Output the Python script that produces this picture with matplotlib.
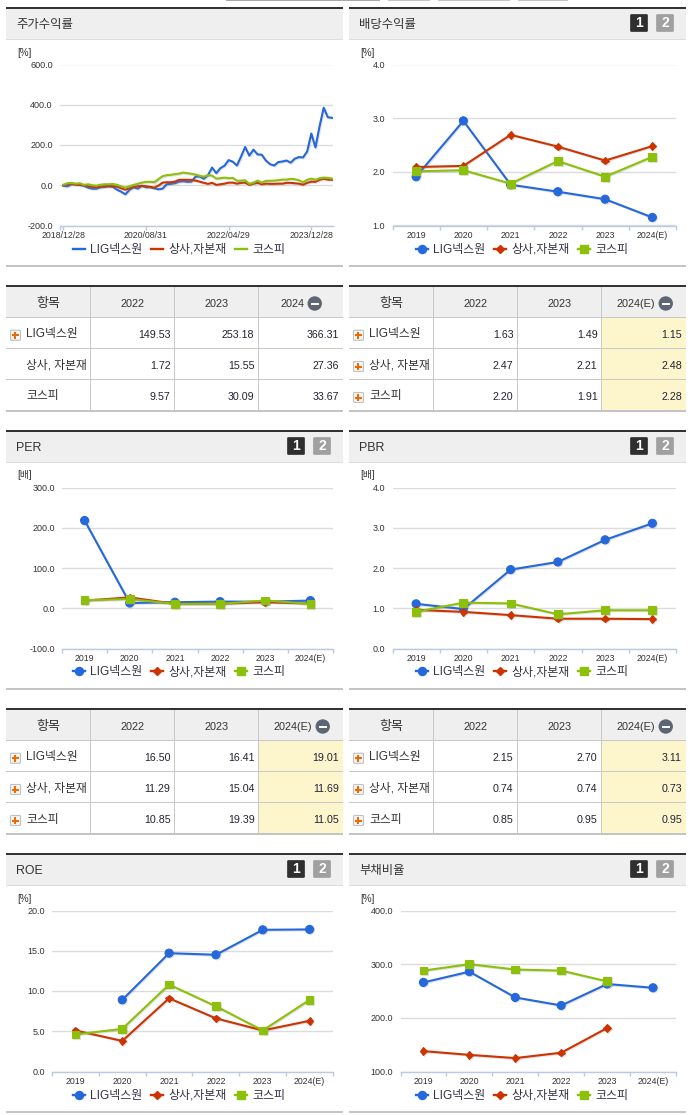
import matplotlib
matplotlib.use('Agg')
from matplotlib import pyplot as plt
from matplotlib import patheffects as pe
from matplotlib.patches import Rectangle, FancyBboxPatch, Circle
from matplotlib.lines import Line2D

plt.rcParams['font.family'] = ['Liberation Sans', 'Noto Sans CJK KR']

W, H = 691, 1115

names = ['LIG넥스원', '상사,자본재', '코스피']
colors = ['#2468dc', '#cc3300', '#8cc00a']
markers = ['o', 'D', 's']
marker_sizes = [5.8, 3.8, 5.6]
years = ['2019', '2020', '2021', '2022', '2023', '2024(E)']
nan = float('nan')

# 주가수익률 (monthly)
ret_dates = ['2018/12/28', '2020/08/31', '2022/04/29', '2023/12/28']
ret_lig = [-3, -5, 5, 5, 2, -3, -12, -17, -17, -10, -8, -6, -8, -22, -32, -45,
           -23, -10, -17, -3, -10, -10, -15, -20, -17, 5, 7, 10, 18, 20, 17, 18,
           43, 43, 32, 50, 88, 60, 85, 97, 125, 117, 98, 143, 190, 147, 177, 153,
           152, 123, 105, 98, 115, 118, 123, 112, 132, 140, 138, 168, 257, 188,
           293, 385, 338, 335]
ret_sector = [0, 5, 7, 3, 2, 0, -5, -8, -10, -7, -5, -3, -5, -7, -15, -22, -15,
              -8, -5, -3, -5, -8, -12, -2, 13, 15, 15, 18, 27, 27, 27, 27, 23, 18,
              12, 7, 12, 2, 5, 8, 13, 13, 8, 12, 13, 2, 8, 12, 5, 8, 7, 7, 8, 8,
              12, 12, 10, 8, 3, 12, 18, 17, 27, 32, 28, 27]
ret_kospi = [3, 10, 12, 8, 10, 2, 5, 0, -2, 3, 5, 5, 7, 2, -5, -12, -5, 2, 7, 13,
             17, 17, 15, 30, 45, 50, 52, 55, 58, 63, 60, 57, 53, 47, 43, 50, 48,
             33, 35, 38, 35, 37, 22, 23, 25, 7, 13, 23, 13, 22, 22, 23, 25, 28,
             28, 32, 30, 25, 15, 27, 33, 27, 35, 38, 37, 33]

div_lig = [1.91, 2.95, 1.76, 1.63, 1.49, 1.15]
div_sector = [2.09, 2.11, 2.69, 2.47, 2.21, 2.48]
div_kospi = [2.01, 2.03, 1.78, 2.20, 1.91, 2.28]

per_lig = [218, 13, 15, 16.50, 16.41, 19.01]
per_sector = [19, 27, 11, 11.29, 15.04, 11.69]
per_kospi = [20, 23, 11, 10.85, 19.39, 11.05]

pbr_lig = [1.11, 0.98, 1.96, 2.15, 2.70, 3.11]
pbr_sector = [0.96, 0.91, 0.83, 0.74, 0.74, 0.73]
pbr_kospi = [0.91, 1.14, 1.12, 0.85, 0.95, 0.95]

roe_lig = [nan, 8.9, 14.7, 14.5, 17.6, 17.65]
roe_sector = [5.1, 3.8, 9.1, 6.6, 5.1, 6.3]
roe_kospi = [4.6, 5.3, 10.8, 8.1, 5.1, 8.9]

debt_lig = [266, 286, 238, 223, 263, 256]
debt_sector = [138, 131, 125, 135, 181, nan]
debt_kospi = [288, 300, 290, 288, 268, nan]

# tables
t1_cols = ['2022', '2023', '2024']
t1_rows = [['149.53', '253.18', '366.31'], ['1.72', '15.55', '27.36'], ['9.57', '30.09', '33.67']]
t2_cols = ['2022', '2023', '2024(E)']
t2_rows = [['1.63', '1.49', '1.15'], ['2.47', '2.21', '2.48'], ['2.20', '1.91', '2.28']]
t3_rows = [['16.50', '16.41', '19.01'], ['11.29', '15.04', '11.69'], ['10.85', '19.39', '11.05']]
t4_rows = [['2.15', '2.70', '3.11'], ['0.74', '0.74', '0.73'], ['0.85', '0.95', '0.95']]

fig = plt.figure(figsize=(W / 100, H / 100), dpi=100, facecolor='white')
bg = fig.add_axes([0, 0, 1, 1])
bg.set_xlim(0, W)
bg.set_ylim(H, 0)
bg.axis('off')

LEFT = (6, 343)
RIGHT = (349, 686)
DARK = '#333333'
HEAD = '#efefef'
LINE = '#c8c8c8'
TEXT = '#333333'


def rect(x0, y0, x1, y1, color, z=1):
    bg.add_patch(Rectangle((x0, y0), x1 - x0, y1 - y0, facecolor=color, edgecolor='none', zorder=z))


def badge(x, y, label, color):
    bg.add_patch(FancyBboxPatch((x + 0.5, y + 0.5), 17, 17, boxstyle='round,pad=0,rounding_size=1',
                                facecolor=color, edgecolor=color, linewidth=0.5, zorder=3))
    bg.text(x + 9, y + 9.3, label, color='white', fontsize=10, fontweight='bold',
            ha='center', va='center', zorder=4)


def panel(col, top, bottom, title, badges=True):
    x0, x1 = col
    rect(x0, top, x1, top + 2, DARK, 2)
    rect(x0, top + 2, x1, top + 32, HEAD)
    rect(x0, top + 31.5, x1, top + 32.5, '#dddddd')
    rect(x0, bottom, x1, bottom + 2, '#c4c4c4')
    bg.text(x0 + 10, top + 18, title, color=TEXT, fontsize=8.9, va='center', ha='left')
    if badges:
        badge(x1 - 56, top + 7, '1', '#2f2f2f')
        badge(x1 - 30, top + 7, '2', '#a0a0a0')


def plus_icon(x, y):
    bg.add_patch(FancyBboxPatch((x, y), 10, 10, boxstyle='round,pad=0,rounding_size=1',
                                facecolor='#f6f6f6', edgecolor='#c0c0c0', linewidth=0.8, zorder=3))
    rect(x + 1.5, y + 4, x + 8.5, y + 6, '#f06a00', 4)
    rect(x + 4, y + 1.5, x + 6, y + 8.5, '#f06a00', 4)


def table(col, top, cols, rows, icons=(True, True, True), shade=True):
    x0, x1 = col
    xs = [x0, x0 + 84.5, x0 + 168.5, x0 + 252.5, x1]
    ys = [top + 2, top + 32, top + 63.5, top + 94.5, top + 125.5]
    rect(x0, top, x1, top + 2, DARK, 2)
    rect(x0, ys[0], x1, ys[1], HEAD)
    if shade:
        rect(xs[3], ys[1], x1, ys[4], '#fdf6cd')
    rect(x0, ys[1] - 0.5, x1, ys[1] + 0.5, LINE, 2)
    rect(x0, ys[2] - 0.5, x1, ys[2] + 0.5, LINE, 2)
    rect(x0, ys[3] - 0.5, x1, ys[3] + 0.5, LINE, 2)
    rect(x0, ys[4] - 0.5, x1, ys[4] + 1.5, '#c4c4c4', 2)
    for x in xs[1:4]:
        rect(x - 0.5, ys[0], x + 0.5, ys[4], LINE, 2)
    bg.text((xs[0] + xs[1]) / 2, top + 19, '항목', color=TEXT, fontsize=9.4, ha='center', va='center')
    for i, c in enumerate(cols):
        cx = (xs[i + 1] + xs[i + 2]) / 2
        if i == 2:
            cx -= 8
            mx = cx + 30 if len(c) > 4 else cx + 22
            bg.add_patch(Circle((mx, top + 18.5), 7.2, facecolor='#5f6673', edgecolor='none', zorder=3))
            rect(mx - 4, top + 17.5, mx + 4, top + 19.5, 'white', 4)
        bg.text(cx, top + 19, c, color=TEXT, fontsize=7.8, ha='center', va='center')
    for r, row in enumerate(rows):
        cy = (ys[r + 1] + ys[r + 2]) / 2
        if icons[r]:
            plus_icon(x0 + 4.5, cy - 2.5)
        bg.text(x0 + 20.5, cy + 1.5, names[r].replace(',', ', '), color=TEXT, fontsize=8.5, ha='left', va='center')
        for i, v in enumerate(row):
            bg.text(xs[i + 2] - 4, cy + 2, v, color='#222233', fontsize=7.7, ha='right', va='center')


def chart_axes(x0, x1, ytop, ybot, ymin, ymax, yticks, yfmt, unit, unit_x):
    ax = fig.add_axes([x0 / W, 1 - ybot / H, (x1 - x0) / W, (ybot - ytop) / H])
    ax.set_facecolor('none')
    ax.set_ylim(ymin, ymax)
    ax.set_yticks(yticks)
    ax.set_yticklabels([yfmt % t for t in yticks], fontsize=6.5, color='#333333')
    ax.grid(axis='y', color='#dcdcdc', linewidth=1.0)
    ax.set_axisbelow(True)
    for s in ['top', 'left', 'right']:
        ax.spines[s].set_visible(False)
    ax.spines['bottom'].set_color('#b8cbe0')
    ax.spines['bottom'].set_linewidth(1.0)
    ax.tick_params(axis='y', length=0, pad=5.2)
    bg.text(unit_x, ytop - 12, unit, fontsize=7, color='#333333', ha='left', va='center')
    return ax


def legend(ax, with_markers, cx, cy):
    handles = []
    for i in range(3):
        handles.append(Line2D([], [], color=colors[i], linewidth=1.7,
                              marker=markers[i] if with_markers else None,
                              markersize=marker_sizes[i], label=names[i]))
    fig.legend(handles=handles, loc='center', bbox_to_anchor=(cx / W, 1 - cy / H), ncol=3,
               frameon=False, fontsize=8.6, labelcolor='#333344', handlelength=1.0,
               handletextpad=0.45, columnspacing=0.7, borderpad=0)


def category_chart(x0, x1, ytop, ybot, ymin, ymax, yticks, yfmt, unit, unit_x, series, leg_cx, leg_cy):
    ax = chart_axes(x0, x1, ytop, ybot, ymin, ymax, yticks, yfmt, unit, unit_x)
    pos = list(range(len(years)))
    ax.set_xlim(-0.5, len(years) - 0.5)
    ax.set_xticks([p - 0.5 for p in pos] + [len(years) - 0.5])
    ax.set_xticklabels([])
    ax.tick_params(axis='x', length=3, color='#b8cbe0', width=1)
    for p, y in zip(pos, years):
        ax.annotate(y, (p, 0), xycoords=('data', 'axes fraction'), xytext=(0, -4),
                    textcoords='offset points', ha='center', va='top', fontsize=6.3, color='#333333')
    shadow = [pe.SimpleLineShadow(offset=(0.7, -0.7), shadow_color='#888888', alpha=0.25), pe.Normal()]
    for i, vals in enumerate(series):
        ax.plot(pos, vals, color=colors[i], linewidth=1.5, marker=markers[i], markersize=marker_sizes[i],
                markeredgecolor=colors[i], markeredgewidth=0.8, path_effects=shadow, clip_on=False, zorder=3 + i)
    legend(ax, True, leg_cx, leg_cy)
    return ax


# 주가수익률 / 배당수익률
panel(LEFT, 7, 265, '주가수익률', badges=False)
panel(RIGHT, 7, 265, '배당수익률')
ax = chart_axes(60, 333, 64.5, 225.5, -200, 600, [-200, 0, 200, 400, 600], '%.1f', '[%]', 17)
n = len(ret_lig)
step = 20
ax.set_xlim(-0.8, n - 1 + 0.25)
ax.set_xticks([-0.8, 0, step, step * 2, step * 3])
ax.set_xticklabels([])
ax.tick_params(axis='x', length=3, color='#b8cbe0', width=1)
for k, d in enumerate(ret_dates):
    ax.annotate(d, (k * step, 0), xycoords=('data', 'axes fraction'), xytext=(0, -4),
                textcoords='offset points', ha='center', va='top', fontsize=6.3, color='#333333')
shadow = [pe.SimpleLineShadow(offset=(0.7, -0.7), shadow_color='#888888', alpha=0.25), pe.Normal()]
for i, vals in enumerate([ret_lig, ret_sector, ret_kospi]):
    ax.plot(range(n), vals, color=colors[i], linewidth=1.5, path_effects=shadow, zorder=3 + i)
legend(ax, False, 179, 250)

category_chart(392.5, 676, 64.5, 225.5, 1, 4, [1, 2, 3, 4], '%.1f', '[%]', 360,
               [div_lig, div_sector, div_kospi], 522, 250)

table(LEFT, 285, t1_cols, t1_rows, icons=(True, False, False), shade=False)
table(RIGHT, 285, t2_cols, t2_rows)

# PER / PBR
panel(LEFT, 430, 688, 'PER')
panel(RIGHT, 430, 688, 'PBR')
category_chart(62, 333, 487.5, 648.5, -100, 300, [-100, 0, 100, 200, 300], '%.1f', '[배]', 17,
               [per_lig, per_sector, per_kospi], 179, 672.5)
category_chart(392.5, 676, 487.5, 648.5, 0, 4, [0, 1, 2, 3, 4], '%.1f', '[배]', 360,
               [pbr_lig, pbr_sector, pbr_kospi], 522, 672.5)

table(LEFT, 708, t2_cols, t3_rows)
table(RIGHT, 708, t2_cols, t4_rows)

# ROE / 부채비율
panel(LEFT, 853, 1111, 'ROE')
panel(RIGHT, 853, 1111, '부채비율')
category_chart(52, 333, 910.5, 1071.5, 0, 20, [0, 5, 10, 15, 20], '%.1f', '[%]', 17,
               [roe_lig, roe_sector, roe_kospi], 179, 1096)
category_chart(400.5, 676, 910.5, 1071.5, 100, 400, [100, 200, 300, 400], '%.1f', '[%]', 360,
               [debt_lig, debt_sector, debt_kospi], 522, 1096)

# cut-off controls at the top edge
for x0, x1, c in [(226, 380, '#a8a8a8'), (388, 430, '#c4c4c4'), (438, 510, '#c4c4c4'), (518, 568, '#c4c4c4')]:
    rect(x0, 0, x1, 1.2, c)

fig.savefig('out.png', dpi=100)
